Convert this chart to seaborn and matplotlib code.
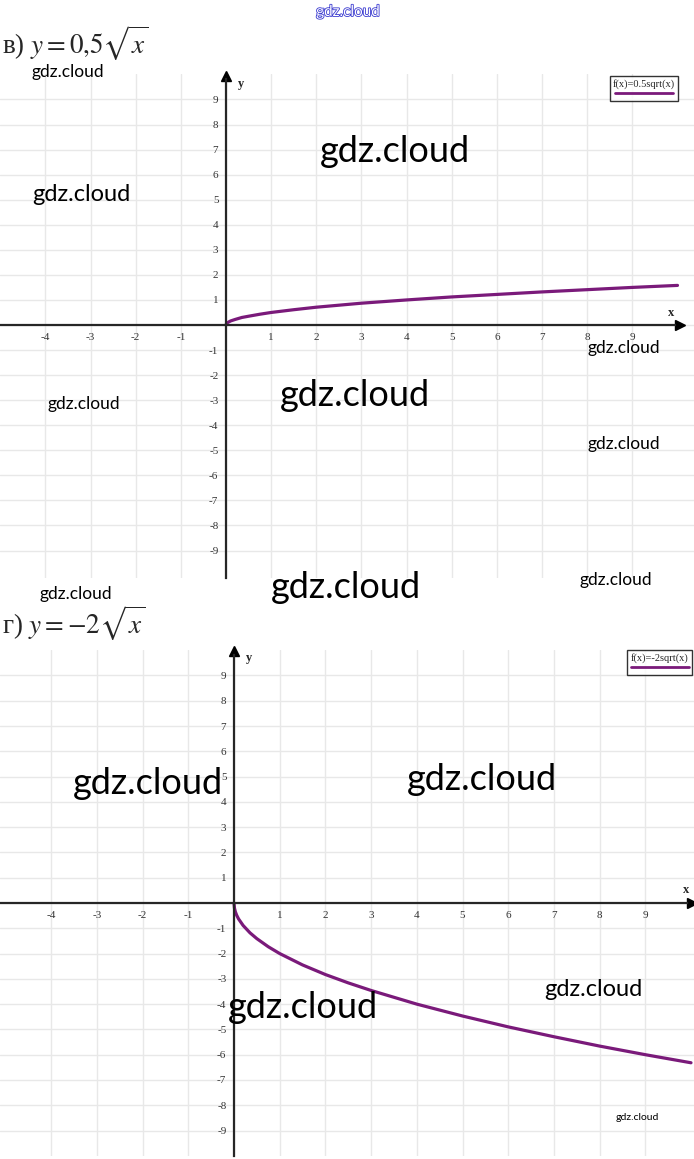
import matplotlib
matplotlib.use("Agg")
import matplotlib.pyplot as plt
import matplotlib.patheffects as pe
from matplotlib.lines import Line2D
import seaborn as sns
import pandas as pd

# ---------------- data ----------------
x_pts = [0, 0.01, 0.03, 0.06, 0.1, 0.2, 0.35, 0.5, 0.75, 1, 1.5, 2, 2.5, 3,
         4, 5, 6, 7, 8, 9, 10]
y_top = [0, 0.05, 0.09, 0.12, 0.16, 0.22, 0.30, 0.35, 0.43, 0.5, 0.61, 0.71,
         0.79, 0.87, 1.0, 1.12, 1.22, 1.32, 1.41, 1.5, 1.58]
y_bot = [0, -0.2, -0.35, -0.49, -0.63, -0.89, -1.18, -1.41, -1.73, -2.0,
         -2.45, -2.83, -3.16, -3.46, -4.0, -4.47, -4.9, -5.29, -5.66, -6.0,
         -6.32]
x_ticks = [-4, -3, -2, -1, 0, 1, 2, 3, 4, 5, 6, 7, 8, 9]
y_ticks = [-9, -8, -7, -6, -5, -4, -3, -2, -1, 0, 1, 2, 3, 4, 5, 6, 7, 8, 9]
x_tick_labels = ["-4", "-3", "-2", "-1", "", "1", "2", "3", "4", "5", "6",
                 "7", "8", "9"]
y_tick_labels = ["-9", "-8", "-7", "-6", "-5", "-4", "-3", "-2", "-1", "",
                 "1", "2", "3", "4", "5", "6", "7", "8", "9"]
titles = ["в) $y=0{,}5\\sqrt{x}$", "г) $y=-2\\sqrt{x}$"]
legend_labels = ["f(x)=0.5sqrt(x)", "f(x)=-2sqrt(x)"]
watermarks = [  # (text, x_px, y_px, size)
    ("gdz.cloud", 68, 72, 12.5), ("gdz.cloud", 395, 152, 26),
    ("gdz.cloud", 81, 194, 17), ("gdz.cloud", 84, 404, 12.5),
    ("gdz.cloud", 355, 396, 26), ("gdz.cloud", 624, 348, 12.5),
    ("gdz.cloud", 624, 444, 12.5), ("gdz.cloud", 346, 587, 26),
    ("gdz.cloud", 616, 580, 12.5), ("gdz.cloud", 76, 594, 12.5),
    ("gdz.cloud", 148, 784, 26), ("gdz.cloud", 482, 779, 26),
    ("gdz.cloud", 593, 990, 17), ("gdz.cloud", 303, 1007, 26),
    ("gdz.cloud", 637, 1118, 7.5),
]

# ---------------- style ----------------
sns.set_style("white")
plt.rcParams["font.family"] = ["Liberation Serif", "DejaVu Serif"]
plt.rcParams["mathtext.fontset"] = "stix"

W, H = 694, 1159
fig = plt.figure(figsize=(W / 100, H / 100), dpi=100)
purple = "#7a1a7a"


def add_px_axes(left, right, top, bottom):
    return fig.add_axes([left / W, 1 - bottom / H, (right - left) / W,
                         (bottom - top) / H])


def draw_panel(ox, oy, sx, sy, top, bottom, ys, title, title_y, leg_label,
               leg_right, leg_top, x_end, ylab_pos, xlab_pos):
    ax = add_px_axes(0, W, top, bottom)
    xlim = ((0 - ox) / sx, (W - ox) / sx)
    ylim = ((oy - bottom) / sy, (oy - top) / sy)
    ax.set_xlim(*xlim)
    ax.set_ylim(*ylim)
    ax.set_facecolor("none")

    ax.set_xticks(x_ticks)
    ax.set_xticklabels(x_tick_labels)
    ax.set_yticks(y_ticks)
    ax.set_yticklabels(y_tick_labels)
    ax.grid(True, color="#e8e8e8", lw=1.0)
    ax.set_axisbelow(True)

    for s in ["top", "right"]:
        ax.spines[s].set_visible(False)
    ax.spines["left"].set_position("zero")
    ax.spines["bottom"].set_position("zero")
    ax.spines["left"].set_linewidth(1.6)
    ax.spines["bottom"].set_linewidth(1.6)
    ax.spines["bottom"].set_bounds(xlim[0], x_end - 0.1)
    ax.spines["left"].set_bounds(ylim[0], 9.8)
    ax.tick_params(direction="inout", length=7, width=1, labelsize=8,
                   labelcolor="#333333", pad=2)

    df = pd.DataFrame({"x": x_pts, "y": ys})
    sns.lineplot(data=df, x="x", y="y", ax=ax, color=purple, lw=2.3,
                 sort=False, estimator=None)
    ax.set_xlabel("")
    ax.set_ylabel("")

    ax.plot([x_end], [0], marker=">", ms=7, color="k", clip_on=False)
    ax.plot([0], [9.95], marker="^", ms=7, color="k", clip_on=False)

    fig.text(ylab_pos[0] / W, 1 - ylab_pos[1] / H, "y", fontsize=9,
             fontweight="bold", ha="center", va="center")
    fig.text(xlab_pos[0] / W, 1 - xlab_pos[1] / H, "x", fontsize=9,
             fontweight="bold", ha="center", va="center")

    fig.text(2 / W, 1 - title_y / H, title, fontsize=19.5, ha="left",
             va="center")

    leg = ax.legend(handles=[Line2D([], [], color=purple, lw=2)], labels=[""],
                    title=leg_label, loc="upper right",
                    bbox_to_anchor=(leg_right / W, 1 - leg_top / H),
                    bbox_transform=fig.transFigure, frameon=True,
                    fancybox=False, edgecolor="k", handlelength=5.6,
                    handletextpad=0, borderpad=0.3, prop={"size": 7.5},
                    title_fontsize=7.5, borderaxespad=0, labelspacing=0)
    leg.get_frame().set_linewidth(1.0)
    return ax


draw_panel(226, 325, 45.15, 25.06, 74.4, 578, y_top, titles[0], 43,
           legend_labels[0], 678, 76, 10.05, (241, 84), (671, 313))
draw_panel(234, 903, 45.7, 25.28, 650, 1156, y_bot, titles[1], 623,
           legend_labels[1], 692, 650, 10.02, (249, 658), (686, 890))

# watermarks
fig.text(348 / W, 1 - 12 / H, "gdz.cloud", fontsize=11, family="Lato",
         color="white", ha="center", va="center",
         path_effects=[pe.withStroke(linewidth=1.2, foreground="#3a3ad0")])
for txt, xp, yp, size in watermarks:
    fig.text(xp / W, 1 - yp / H, txt, fontsize=size, family="Lato",
             color="black", ha="center", va="center")

fig.savefig("out.png", dpi=100)
